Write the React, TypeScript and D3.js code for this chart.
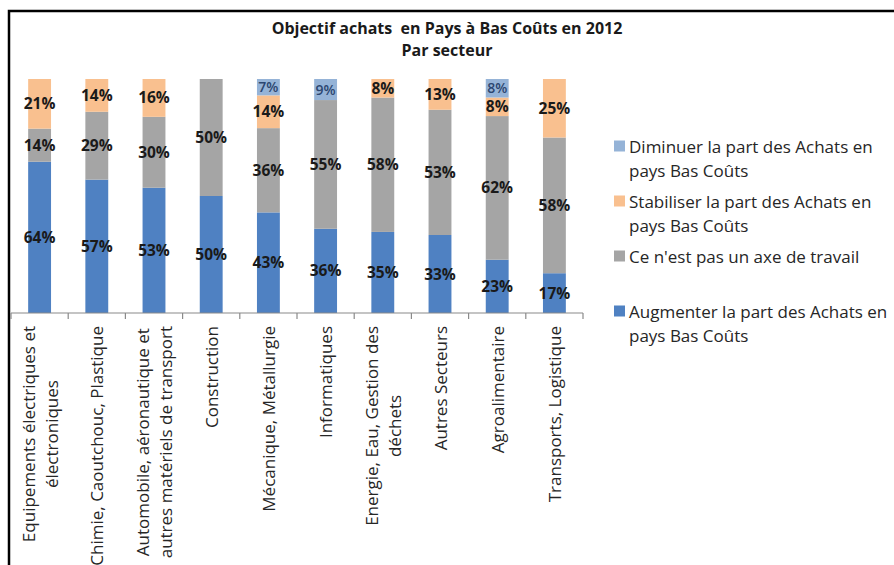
import React, { useEffect, useRef } from "react";
import * as d3 from "d3";

const categories: string[][] = [
  ["Equipements électriques et", "électroniques"],
  ["Chimie, Caoutchouc, Plastique"],
  ["Automobile, aéronautique et", "autres matériels de transport"],
  ["Construction"],
  ["Mécanique, Métallurgie"],
  ["Informatiques"],
  ["Energie, Eau, Gestion des", "déchets"],
  ["Autres Secteurs"],
  ["Agroalimentaire"],
  ["Transports, Logistique"],
];

const augmenter = [64, 57, 53, 50, 43, 36, 35, 33, 23, 17];
const pasAxe = [14, 29, 30, 50, 36, 55, 58, 53, 62, 58];
const stabiliser = [21, 14, 16, 0, 14, 0, 8, 13, 8, 25];
const diminuer = [0, 0, 0, 0, 7, 9, 0, 0, 8, 0];

const seriesNames = [
  ["Augmenter la part des Achats en", "pays Bas Coûts"],
  ["Ce n'est pas un axe de travail"],
  ["Stabiliser la part des Achats en", "pays Bas Coûts"],
  ["Diminuer la part des Achats en", "pays Bas Coûts"],
];
const seriesColors = ["#4f81c2", "#a5a5a5", "#f9c08f", "#95b3d7"];
const labelColors = ["#1a1a1a", "#1a1a1a", "#1a1a1a", "#2c4670"];

const titleLines = ["Objectif achats  en Pays à Bas Coûts en 2012", "Par secteur"];

export default function App() {
  const ref = useRef<SVGSVGElement | null>(null);

  useEffect(() => {
    const svg = d3.select(ref.current);
    svg.selectAll("*").remove();
    const W = 894, H = 565;
    const FONT = "'Open Sans', sans-serif";

    svg.append("rect").attr("x", 0).attr("y", 0).attr("width", W).attr("height", H).attr("fill", "#fff");
    // frame
    svg.append("rect").attr("x", 9).attr("y", 11).attr("width", W + 20).attr("height", H + 20)
      .attr("fill", "none").attr("stroke", "#000").attr("stroke-width", 2.5);

    // title
    svg.append("g").selectAll("text").data(titleLines).join("text")
      .attr("x", 447).attr("y", (_d, i) => 34 + i * 22)
      .attr("text-anchor", "middle")
      .style("white-space", "pre")
      .attr("font-family", FONT).attr("font-weight", 700).attr("font-size", 16)
      .attr("fill", "#1a1a1a").text((d) => d);

    const keys = ["aug", "pas", "stab", "dim"];
    const rows = categories.map((c, i) => ({
      aug: augmenter[i], pas: pasAxe[i], stab: stabiliser[i], dim: diminuer[i], idx: i,
    }));
    const stack = d3.stack<any>().keys(keys).offset(d3.stackOffsetExpand);
    const series = stack(rows);

    const x = d3.scaleBand<number>().domain(d3.range(categories.length)).range([11, 583])
      .paddingInner(0.6).paddingOuter(0.3);
    const y = d3.scaleLinear().domain([0, 1]).range([313, 79]);

    const g = svg.append("g");
    series.forEach((s, si) => {
      g.append("g").selectAll("rect").data(s).join("rect")
        .attr("x", (_d, i) => x(i)!)
        .attr("width", x.bandwidth())
        .attr("y", (d) => y(d[1]))
        .attr("height", (d) => Math.max(0, y(d[0]) - y(d[1])))
        .attr("fill", seriesColors[si]);
    });
    // labels
    series.forEach((s, si) => {
      const vals = [augmenter, pasAxe, stabiliser, diminuer][si];
      g.append("g").selectAll("text").data(s.filter((_d, i) => vals[i] > 0)).join("text")
        .attr("x", (d: any) => x(d.data.idx)! + x.bandwidth() / 2)
        .attr("y", (d) => (y(d[0]) + y(d[1])) / 2)
        .attr("dy", "0.36em")
        .attr("text-anchor", "middle")
        .attr("font-family", FONT).attr("font-weight", si === 3 ? 600 : 700)
        .attr("font-size", si === 3 ? 14 : 15.5)
        .attr("fill", labelColors[si])
        .text((d: any) => vals[d.data.idx] + "%");
    });

    // x axis
    const ax = svg.append("g");
    ax.append("line").attr("x1", 11).attr("x2", 583).attr("y1", 313).attr("y2", 313)
      .attr("stroke", "#8a8a8a").attr("stroke-width", 1.2);
    const step = x.step();
    d3.range(categories.length + 1).forEach((i) => {
      const tx = 11 + i * step;
      ax.append("line").attr("x1", tx).attr("x2", tx).attr("y1", 313).attr("y2", 319)
        .attr("stroke", "#8a8a8a").attr("stroke-width", 1.2);
    });
    const LINE = 23;
    categories.forEach((lines, i) => {
      const cx = x(i)! + x.bandwidth() / 2;
      const grp = ax.append("g");
      const texts = lines.map((l) => grp.append("text")
        .attr("font-family", FONT).attr("font-size", 17).attr("fill", "#262626")
        .attr("text-anchor", "middle").attr("dominant-baseline", "central").text(l));
      const maxW = d3.max(texts, (t) => (t.node() as SVGTextElement).getComputedTextLength()) || 0;
      const cy = 326 + maxW / 2;
      texts.forEach((t, li) => {
        const off = (li - (lines.length - 1) / 2) * LINE;
        t.attr("transform", `translate(${cx + off},${cy}) rotate(-90)`);
      });
    });

    // legend (top to bottom: reverse stack order)
    const leg = svg.append("g");
    const order = [3, 2, 1, 0];
    order.forEach((si, k) => {
      const y0 = 146 + k * 55;
      leg.append("rect").attr("x", 614).attr("y", y0 - 5.5).attr("width", 11).attr("height", 11)
        .attr("fill", seriesColors[si]);
      seriesNames[si].forEach((ln, li) => {
        leg.append("text").attr("x", 629).attr("y", y0 + li * 24)
          .attr("dominant-baseline", "central")
          .attr("font-family", FONT).attr("font-size", 17).attr("fill", "#262626").text(ln);
      });
    });
  }, []);

  return (
    <div style={{ position: "absolute", left: 0, top: 0 }}>
      <svg ref={ref} width={894} height={565} style={{ display: "block" }} />
    </div>
  );
}
